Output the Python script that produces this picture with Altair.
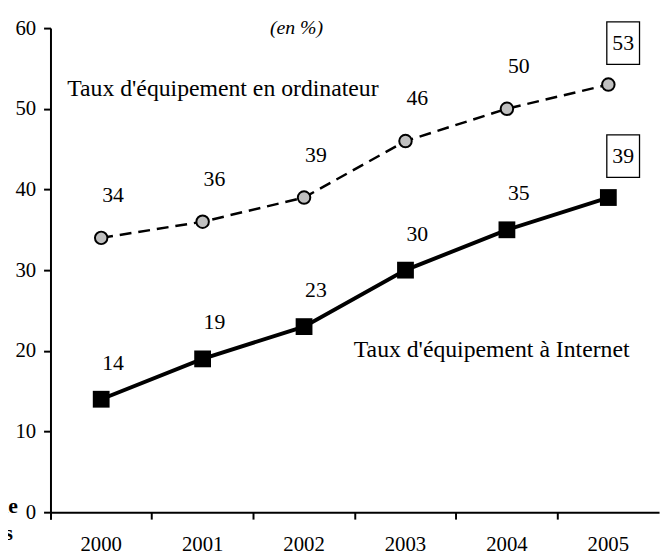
import altair as alt
import pandas as pd

years = ["2000", "2001", "2002", "2003", "2004", "2005"]
ordinateur = [34, 36, 39, 46, 50, 53]
internet = [14, 19, 23, 30, 35, 39]
y_ticks = [0, 10, 20, 30, 40, 50, 60]

label_ordi = "Taux d'équipement en ordinateur"
label_inet = "Taux d'équipement à Internet"
unit_note = "(en %)"

df = pd.DataFrame({
    "year": years * 2,
    "value": ordinateur + internet,
    "series": ["ordinateur"] * len(years) + ["internet"] * len(years),
})
df_last = df[df["year"] == years[-1]]
df_rest = df[df["year"] != years[-1]]

FONT = "Liberation Serif"

xenc = alt.X(
    "year:O",
    scale=alt.Scale(type="band", paddingInner=0, paddingOuter=0),
    bandPosition=0.5,
    axis=alt.Axis(title=None, labelAngle=0, bandPosition=0, tickExtra=True,
                  grid=False, labelPadding=15),
)
yenc = alt.Y(
    "value:Q",
    scale=alt.Scale(domain=[0, 60], nice=False, zero=True),
    axis=alt.Axis(title=None, values=y_ticks, grid=False, labelPadding=8),
)

base = alt.Chart(df).encode(x=xenc, y=yenc)
is_ordi = alt.datum.series == "ordinateur"
is_inet = alt.datum.series == "internet"

line_ordi = base.transform_filter(is_ordi).mark_line(
    color="black", strokeWidth=2.5, strokeDash=[12, 7])
line_inet = base.transform_filter(is_inet).mark_line(
    color="black", strokeWidth=4)
pts_ordi = base.transform_filter(is_ordi).mark_point(
    shape="circle", filled=True, fill="#c0c0c0", stroke="black", strokeWidth=2,
    size=160, opacity=1)
pts_inet = base.transform_filter(is_inet).mark_square(
    size=289, color="black", opacity=1)

box_shape = "M-0.77,-1H0.77V1H-0.77Z"
boxes = alt.Chart(df_last).mark_point(
    shape=box_shape, size=1849, filled=True, fill="white", stroke="black",
    strokeWidth=1.3, opacity=1, xOffset=15, yOffset=-42,
).encode(x=xenc, y=yenc)
labels_last = alt.Chart(df_last).mark_text(
    font=FONT, fontSize=22, color="black", dx=15, dy=-42
).encode(x=xenc, y=yenc, text="value:Q")

rest = alt.Chart(df_rest).encode(x=xenc, y=yenc, text="value:Q")
labels_ordi = rest.transform_filter(is_ordi).mark_text(
    font=FONT, fontSize=22, color="black", dx=12, dy=-43)
labels_inet = rest.transform_filter(is_inet).mark_text(
    font=FONT, fontSize=22, color="black", dx=12, dy=-37)

ann_ordi = alt.Chart(pd.DataFrame({"t": [label_ordi]})).mark_text(
    font=FONT, fontSize=24, color="black", align="left", baseline="middle"
).encode(text="t:N", x=alt.value(17), y=alt.value(62))
ann_inet = alt.Chart(pd.DataFrame({"t": [label_inet]})).mark_text(
    font=FONT, fontSize=24, color="black", align="left", baseline="middle"
).encode(text="t:N", x=alt.value(307), y=alt.value(326))
ann_unit = alt.Chart(pd.DataFrame({"t": [unit_note]})).mark_text(
    font=FONT, fontSize=20, fontStyle="italic", color="black", align="center",
    baseline="middle"
).encode(text="t:N", x=alt.value(249), y=alt.value(0))
ann_cut1 = alt.Chart(pd.DataFrame({"t": ["ile"]})).mark_text(
    font=FONT, fontSize=22, fontWeight="bold", color="black", align="right",
    baseline="alphabetic"
).encode(text="t:N", x=alt.value(-33), y=alt.value(491))
ann_cut2 = alt.Chart(pd.DataFrame({"t": ["s"]})).mark_text(
    font=FONT, fontSize=22, fontWeight="bold", color="black", align="right",
    baseline="alphabetic"
).encode(text="t:N", x=alt.value(-38), y=alt.value(518))

chart = alt.layer(
    line_ordi, line_inet, pts_ordi, pts_inet, boxes, labels_last,
    labels_ordi, labels_inet,
    ann_ordi, ann_inet, ann_unit, ann_cut1, ann_cut2,
).properties(
    width=616, height=490,
    padding={"left": 43, "top": 17, "right": 5, "bottom": 40},
    autosize="none",
).configure_view(stroke=None).configure_axis(
    domainColor="black", domainWidth=2, tickColor="black", tickWidth=2,
    tickSize=7, labelFont=FONT, labelFontSize=21, labelColor="black",
)

chart.save("out.html", embed_options={"renderer": "svg", "actions": False})
